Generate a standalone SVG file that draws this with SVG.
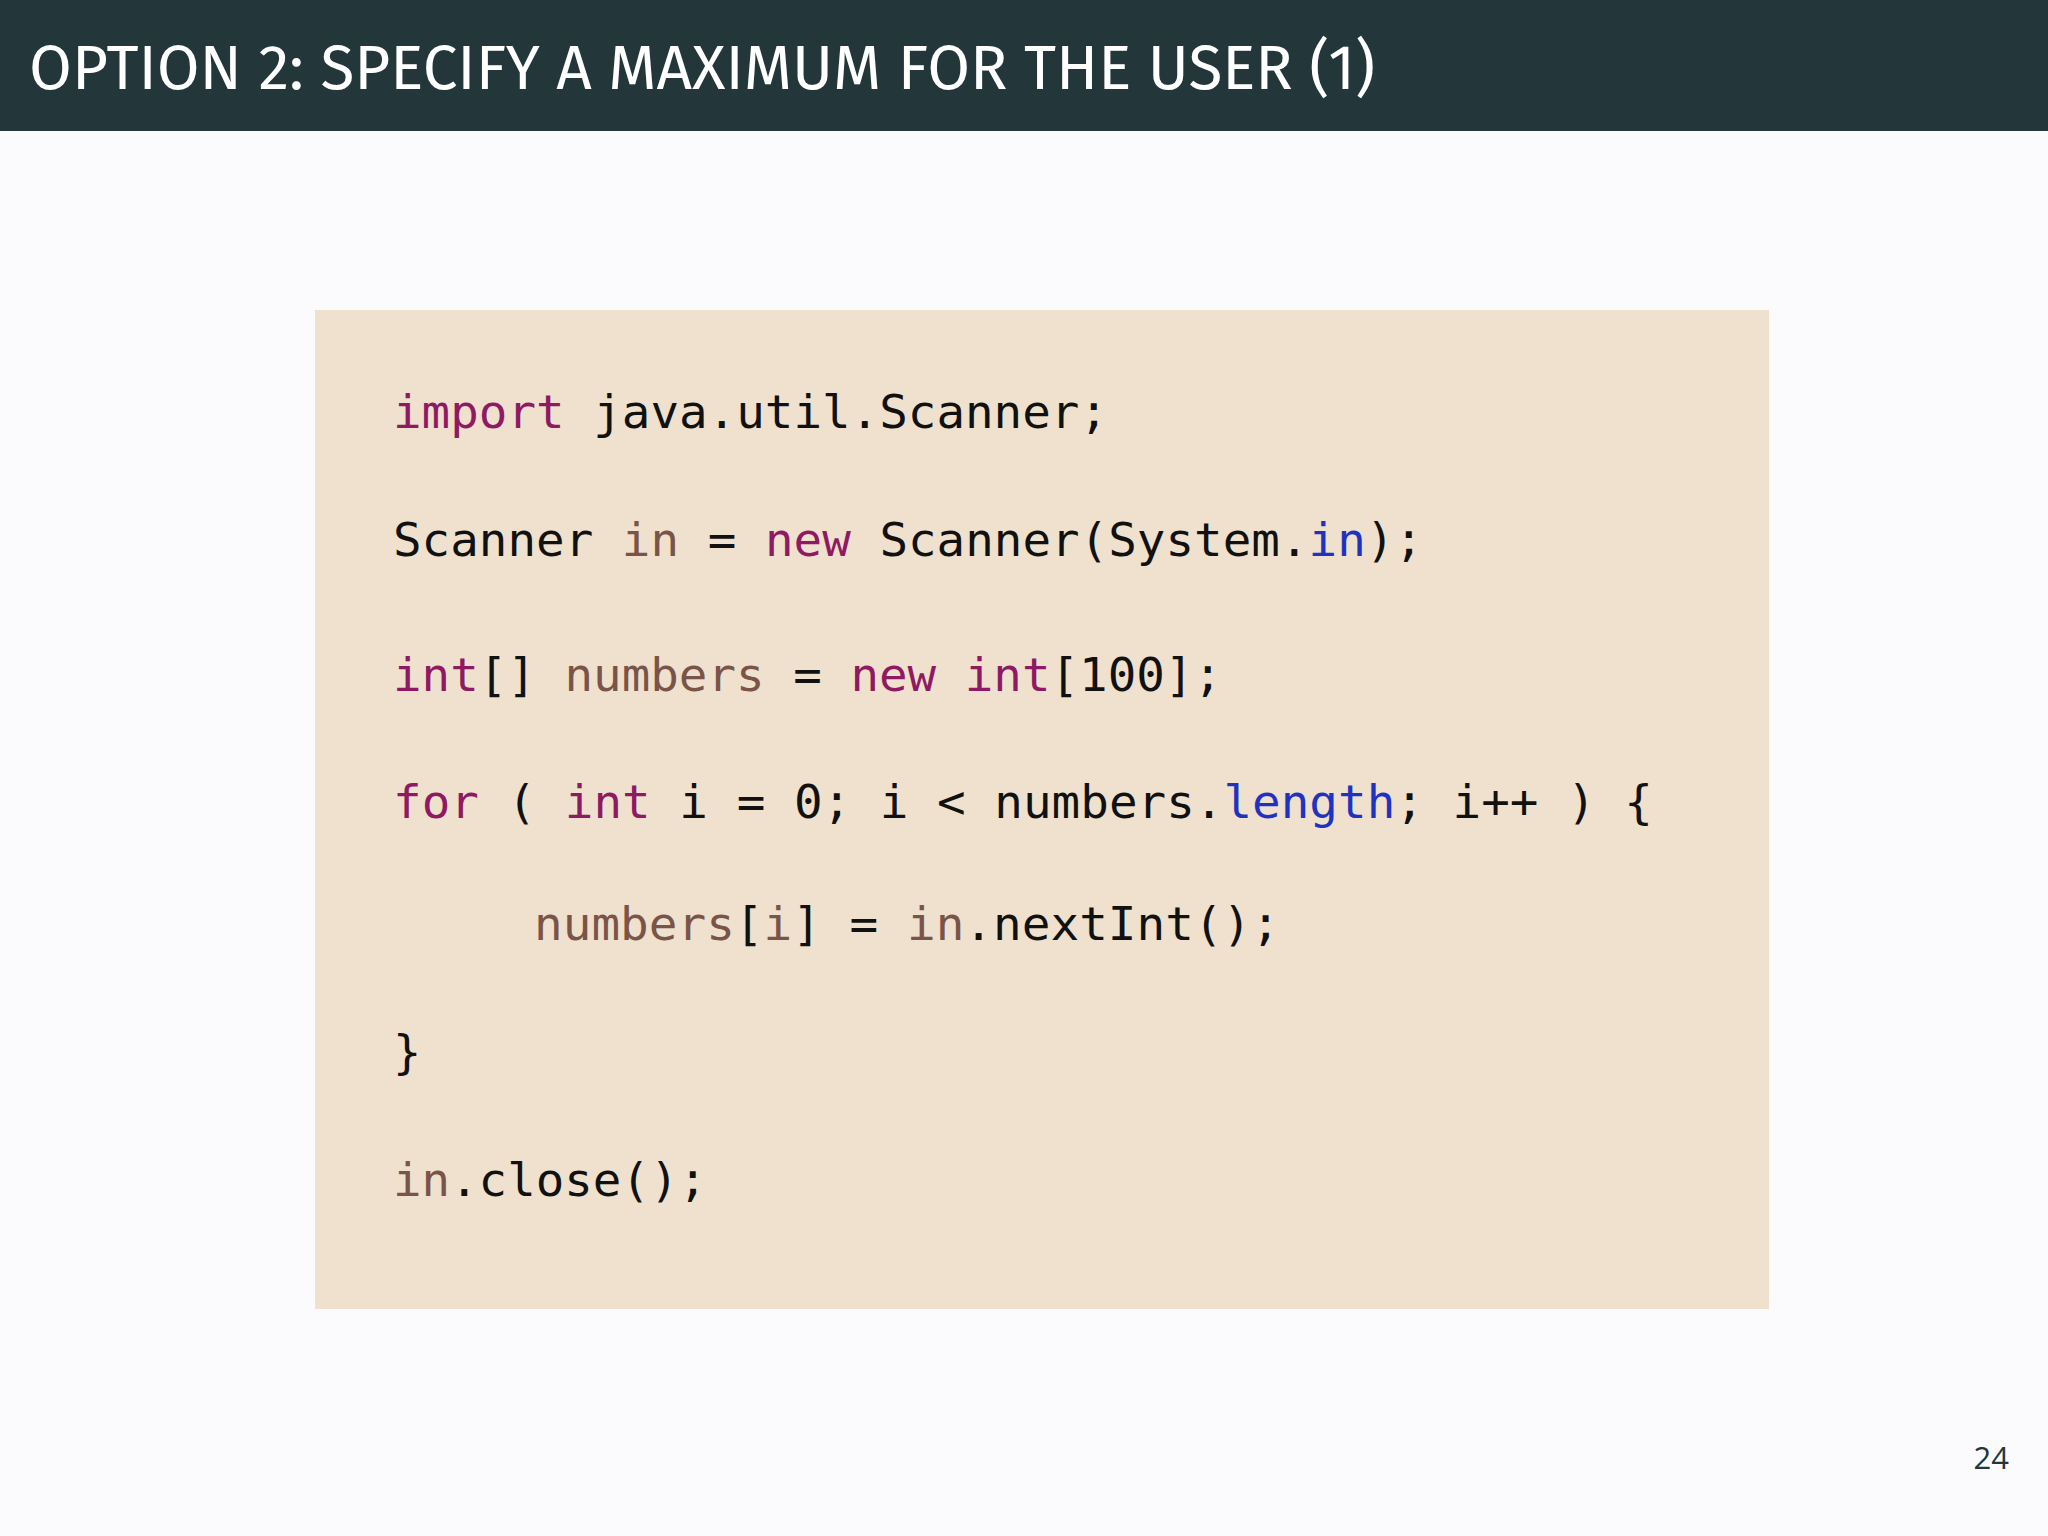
<svg xmlns="http://www.w3.org/2000/svg" width="2048" height="1536" viewBox="0 0 2048 1536">
<style>
.code{font-family:"DejaVu Sans Mono","Liberation Mono",monospace;font-size:47px;fill:#111;white-space:pre}
.k{fill:#8e1a63}.v{fill:#7a5448}.b{fill:#1f33c0}
</style>
<rect width="2048" height="1536" fill="#fbfbfd"/>
<g id="header"><rect width="2048" height="131" fill="#23373b"/>
<text x="29" y="89" font-family="Fira Sans,'Open Sans','Noto Sans',sans-serif" font-size="62" fill="#ffffff">OPTION 2: SPECIFY A MAXIMUM FOR THE USER (1)</text></g>
<g id="codebox"><rect x="315" y="310" width="1454" height="999" fill="#efe1cd"/>
<text class="code" xml:space="preserve" x="393" y="428" textLength="715" lengthAdjust="spacingAndGlyphs"><tspan class="k">import</tspan> java.util.Scanner;</text>
<text class="code" xml:space="preserve" x="393" y="556" textLength="1030" lengthAdjust="spacingAndGlyphs">Scanner <tspan class="v">in</tspan> = <tspan class="k">new</tspan> Scanner(System.<tspan class="b">in</tspan>);</text>
<text class="code" xml:space="preserve" x="393" y="691" textLength="829" lengthAdjust="spacingAndGlyphs"><tspan class="k">int</tspan>[] <tspan class="v">numbers</tspan> = <tspan class="k">new</tspan> <tspan class="k">int</tspan>[100];</text>
<text class="code" xml:space="preserve" x="393" y="818" textLength="1260" lengthAdjust="spacingAndGlyphs"><tspan class="k">for</tspan> ( <tspan class="k">int</tspan> i = 0; i &lt; numbers.<tspan class="b">length</tspan>; i++ ) {</text>
<text class="code" xml:space="preserve" x="534" y="940" textLength="746" lengthAdjust="spacingAndGlyphs"><tspan class="v">numbers</tspan>[<tspan class="v">i</tspan>] = <tspan class="v">in</tspan>.nextInt();</text>
<text class="code" xml:space="preserve" x="393" y="1068">}</text>
<text class="code" xml:space="preserve" x="393" y="1196" textLength="314" lengthAdjust="spacingAndGlyphs"><tspan class="v">in</tspan>.close();</text>
</g>
<text id="pagenum" x="2009" y="1469" text-anchor="end" font-family="'Open Sans','Noto Sans',sans-serif" font-size="31" fill="#23373b">24</text>
</svg>
